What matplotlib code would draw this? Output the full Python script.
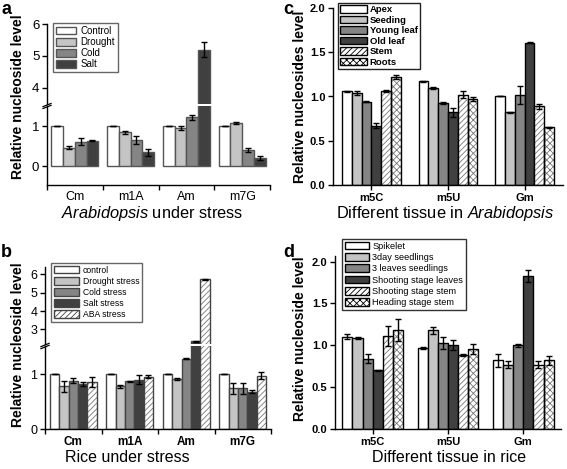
import matplotlib
matplotlib.use('Agg')
import matplotlib.pyplot as plt
import matplotlib.patches as mpatches
import numpy as np

plt.rcParams['font.family'] = ['Liberation Sans', 'DejaVu Sans']
plt.rcParams['mathtext.fontset'] = 'custom'
plt.rcParams['mathtext.rm'] = 'Liberation Sans'
plt.rcParams['mathtext.it'] = 'Liberation Sans:italic'
plt.rcParams['mathtext.bf'] = 'Liberation Sans:bold'
plt.rcParams['hatch.linewidth'] = 0.6

# ---------------- data ----------------
# Panel a: Arabidopsis under stress
a_cats = ['Cm', 'm1A', 'Am', 'm7G']
a_labels = ['Control', 'Drought', 'Cold', 'Salt']
a_control = [1.0, 1.0, 1.0, 1.0]
a_drought = [0.46, 0.84, 0.94, 1.08]
a_cold = [0.61, 0.65, 1.22, 0.40]
a_salt = [0.63, 0.34, 5.19, 0.20]
a_control_err = [0.0, 0.0, 0.0, 0.0]
a_drought_err = [0.03, 0.03, 0.05, 0.02]
a_cold_err = [0.09, 0.09, 0.06, 0.06]
a_salt_err = [0.01, 0.08, 0.23, 0.05]

# Panel b: Rice under stress
b_cats = ['Cm', 'm1A', 'Am', 'm7G']
b_labels = ['control', 'Drought stress', 'Cold stress', 'Salt stress', 'ABA stress']
b_control = [1.0, 1.0, 1.0, 1.0]
b_drought = [0.78, 0.775, 0.91, 0.74]
b_cold = [0.88, 0.87, 1.28, 0.74]
b_salt = [0.82, 0.90, 2.35, 0.68]
b_aba = [0.86, 0.95, 5.74, 0.97]
b_control_err = [0.0, 0.0, 0.0, 0.0]
b_drought_err = [0.10, 0.02, 0.01, 0.10]
b_cold_err = [0.05, 0.01, 0.01, 0.10]
b_salt_err = [0.04, 0.09, 0.02, 0.03]
b_aba_err = [0.09, 0.03, 0.03, 0.06]

# Panel c: Different tissue in Arabidopsis
c_cats = ['m5C', 'm5U', 'Gm']
c_labels = ['Apex', 'Seeding', 'Young leaf', 'Old leaf', 'Stem', 'Roots']
c_apex = [1.06, 1.17, 1.00]
c_seeding = [1.04, 1.10, 0.82]
c_young = [0.94, 0.93, 1.02]
c_old = [0.67, 0.82, 1.61]
c_stem = [1.06, 1.02, 0.89]
c_roots = [1.22, 0.97, 0.65]
c_apex_err = [0.005, 0.005, 0.0]
c_seeding_err = [0.02, 0.01, 0.01]
c_young_err = [0.005, 0.01, 0.10]
c_old_err = [0.03, 0.05, 0.01]
c_stem_err = [0.01, 0.04, 0.03]
c_roots_err = [0.02, 0.02, 0.01]

# Panel d: Different tissue in rice
d_cats = ['m5C', 'm5U', 'Gm']
d_labels = ['Spikelet', '3day seedlings', '3 leaves seedlings',
            'Shooting stage leaves', 'Shooting stage stem', 'Heading stage stem']
d_spikelet = [1.10, 0.97, 0.82]
d_3day = [1.09, 1.18, 0.77]
d_3leaves = [0.84, 1.03, 1.00]
d_shoot_leaves = [0.70, 1.00, 1.83]
d_shoot_stem = [1.11, 0.88, 0.77]
d_heading_stem = [1.18, 0.95, 0.82]
d_spikelet_err = [0.03, 0.01, 0.08]
d_3day_err = [0.01, 0.04, 0.04]
d_3leaves_err = [0.05, 0.07, 0.02]
d_shoot_leaves_err = [0.01, 0.06, 0.07]
d_shoot_stem_err = [0.12, 0.01, 0.04]
d_heading_stem_err = [0.13, 0.06, 0.05]

# ---------------- styles ----------------
WHITE, LIGHT, MID, DARK = '#ffffff', '#c4c4c4', '#858585', '#404040'
W, H = 567, 469
fig = plt.figure(figsize=(W / 100, H / 100), dpi=100)


def rect(l, r, top, bottom):
    return [l / W, 1 - bottom / H, (r - l) / W, (bottom - top) / H]


def draw_bars(ax, ncat, series, errs, styles, width, edge):
    x = np.arange(ncat)
    n = len(series)
    for i, (vals, err, st) in enumerate(zip(series, errs, styles)):
        pos = x + (i - (n - 1) / 2) * width
        fc, hatch = st
        if hatch:
            ax.bar(pos, vals, width, color=fc, edgecolor='#777777', hatch=hatch,
                   linewidth=0, zorder=2)
            ax.bar(pos, vals, width, fill=False, edgecolor=edge, linewidth=1.0, zorder=3)
        else:
            ax.bar(pos, vals, width, color=fc, edgecolor=edge, linewidth=1.0, zorder=2)
        ax.errorbar(pos, vals, yerr=err, fmt='none', ecolor='black', elinewidth=1.0,
                    capsize=2.2, capthick=1.0, zorder=4)
    return x


def legend_handles(styles, edge):
    return [mpatches.Patch(facecolor=fc, edgecolor=edge, hatch=hatch, linewidth=1.0)
            for fc, hatch in styles]


def break_marks(ax, y):
    kw = dict(transform=ax.transAxes, color='black', lw=0.9, clip_on=False, zorder=10)
    for dy in (-0.012, 0.012):
        ax.plot([-0.018, 0.018], [y + dy - 0.02, y + dy + 0.02], **kw)


def style_axis(ax):
    ax.spines['top'].set_visible(False)
    ax.spines['right'].set_visible(False)
    for s in ax.spines.values():
        s.set_linewidth(1.0)
    ax.tick_params(axis='both', direction='out', length=3.5, width=1.0, pad=2)
    ax.patch.set_alpha(0)


# ---------------- panel a ----------------
styles_a = [(WHITE, None), (LIGHT, None), (MID, None), (DARK, None)]
edge_a = '#555555'
a_series = [a_control, a_drought, a_cold, a_salt]
a_errs = [a_control_err, a_drought_err, a_cold_err, a_salt_err]
axa_lo = fig.add_axes(rect(47, 270, 106, 185))
axa_hi = fig.add_axes(rect(47, 270, 24, 104))
for ax in (axa_lo, axa_hi):
    draw_bars(ax, 4, a_series, a_errs, styles_a, 0.21, edge_a)
    style_axis(ax)
    ax.set_xlim(-0.5, 3.5)
    ax.tick_params(axis='y', labelsize=9.5)
axa_lo.set_ylim(-0.475, 1.5)
axa_hi.set_ylim(3.49, 6.0)
axa_lo.set_yticks([0, 1])
axa_hi.set_yticks([4, 5, 6])
axa_hi.spines['bottom'].set_visible(False)
axa_hi.tick_params(axis='x', which='both', bottom=False, labelbottom=False)
axa_lo.set_xticks(np.arange(4))
axa_lo.set_xticklabels(a_cats, fontsize=9)
axa_lo.tick_params(axis='x', which='major', length=0, pad=4)
axa_lo.set_xticks(np.arange(-0.5, 4, 1.0), minor=True)
axa_lo.tick_params(axis='x', which='minor', length=3.5, width=1.0, direction='out')
break_marks(axa_lo, 1.0)
axa_hi.legend(legend_handles(styles_a, edge_a), a_labels, loc='upper left',
              bbox_to_anchor=(53 / W, 1 - 23 / H), bbox_transform=fig.transFigure,
              borderaxespad=0, fontsize=7, handlelength=2.1, handleheight=0.85,
              labelspacing=0.12, borderpad=0.3, handletextpad=0.4, fancybox=False,
              framealpha=1, edgecolor='#666666')
fig.text(18 / W, 1 - 97 / H, 'Relative nucleoside level', rotation=90, fontsize=10,
         fontweight='bold', ha='center', va='center')
fig.text(152 / W, 1 - 213 / H, r'$\it{Arabidopsis}$ under stress', fontsize=11.8,
         ha='center', va='center')

# ---------------- panel b ----------------
styles_b = [(WHITE, None), (LIGHT, None), (MID, None), (DARK, None), (WHITE, '//////')]
edge_b = '#444444'
b_series = [b_control, b_drought, b_cold, b_salt, b_aba]
b_errs = [b_control_err, b_drought_err, b_cold_err, b_salt_err, b_aba_err]
axb_lo = fig.add_axes(rect(45, 271, 346, 429))
axb_hi = fig.add_axes(rect(45, 271, 267, 344))
for ax in (axb_lo, axb_hi):
    draw_bars(ax, 4, b_series, b_errs, styles_b, 0.165, edge_b)
    style_axis(ax)
    ax.set_xlim(-0.5, 3.5)
    ax.tick_params(axis='y', labelsize=9)
axb_lo.set_ylim(0, 1.51)
axb_hi.set_ylim(2.2, 6.4)
axb_lo.set_yticks([0, 1])
axb_hi.set_yticks([3, 4, 5, 6])
axb_hi.spines['bottom'].set_visible(False)
axb_hi.tick_params(axis='x', which='both', bottom=False, labelbottom=False)
axb_lo.set_xticks(np.arange(4))
axb_lo.set_xticklabels(b_cats, fontsize=8.5, fontweight='bold')
axb_lo.tick_params(axis='x', which='major', length=0, pad=5)
axb_lo.set_xticks(np.arange(-0.5, 4, 1.0), minor=True)
axb_lo.tick_params(axis='x', which='minor', length=3.5, width=1.0, direction='out')
break_marks(axb_lo, 1.0)
axb_hi.legend(legend_handles(styles_b, edge_b), b_labels, loc='upper left',
              bbox_to_anchor=(51 / W, 1 - 263 / H), bbox_transform=fig.transFigure,
              borderaxespad=0, fontsize=6.2, handlelength=3.0, handleheight=1.0,
              labelspacing=0.25, borderpad=0.3, handletextpad=0.4, fancybox=False,
              framealpha=1, edgecolor='#666666')
fig.text(18 / W, 1 - 345 / H, 'Relative nucleoside level', rotation=90, fontsize=10,
         fontweight='bold', ha='center', va='center')
fig.text(127 / W, 1 - 457 / H, 'Rice under stress', fontsize=11.5, ha='center', va='center')

# ---------------- panel c ----------------
styles_c = [(WHITE, None), (LIGHT, None), (MID, None), (DARK, None),
            (WHITE, '//////'), (WHITE, 'xxxxx')]
edge_c = 'black'
c_series = [c_apex, c_seeding, c_young, c_old, c_stem, c_roots]
c_errs = [c_apex_err, c_seeding_err, c_young_err, c_old_err, c_stem_err, c_roots_err]
axc = fig.add_axes(rect(333, 563, 8, 185))
draw_bars(axc, 3, c_series, c_errs, styles_c, 0.128, edge_c)
style_axis(axc)
axc.set_xlim(-0.5, 2.5)
axc.set_ylim(0, 2.0)
axc.set_yticks([0, 0.5, 1.0, 1.5, 2.0])
axc.set_yticklabels(['0.0', '0.5', '1.0', '1.5', '2.0'], fontsize=8, fontweight='bold')
axc.set_xticks(np.arange(3))
axc.set_xticklabels(c_cats, fontsize=8, fontweight='bold')
axc.legend(legend_handles(styles_c, edge_c), c_labels, loc='upper left',
           bbox_to_anchor=(338 / W, 1 - 3 / H), bbox_transform=fig.transFigure,
           borderaxespad=0, prop={'size': 6.8, 'weight': 'bold'}, handlelength=2.8,
           handleheight=0.85, labelspacing=0.15, borderpad=0.25, handletextpad=0.3,
           fancybox=False, framealpha=1, edgecolor='#222222')
fig.text(300 / W, 1 - 97 / H, 'Relative nucleosides level', rotation=90, fontsize=10,
         fontweight='bold', ha='center', va='center')
fig.text(445 / W, 1 - 213 / H, r'Different tissue in $\it{Arabidopsis}$', fontsize=11.8,
         ha='center', va='center')

# ---------------- panel d ----------------
styles_d = [(WHITE, None), (LIGHT, None), (MID, None), (DARK, None),
            (WHITE, '//////'), (WHITE, 'xxxxx')]
edge_d = 'black'
d_series = [d_spikelet, d_3day, d_3leaves, d_shoot_leaves, d_shoot_stem, d_heading_stem]
d_errs = [d_spikelet_err, d_3day_err, d_3leaves_err, d_shoot_leaves_err,
          d_shoot_stem_err, d_heading_stem_err]
axd = fig.add_axes(rect(335, 561, 256, 429))
draw_bars(axd, 3, d_series, d_errs, styles_d, 0.134, edge_d)
style_axis(axd)
axd.set_xlim(-0.5, 2.5)
axd.set_ylim(0, 2.066)
axd.set_yticks([0, 0.5, 1.0, 1.5, 2.0])
axd.set_yticklabels(['0.0', '0.5', '1.0', '1.5', '2.0'], fontsize=8, fontweight='bold')
axd.set_xticks(np.arange(3))
axd.set_xticklabels(d_cats, fontsize=8, fontweight='bold')
axd.legend(legend_handles(styles_d, edge_d), d_labels, loc='upper left',
           bbox_to_anchor=(342 / W, 1 - 239 / H), bbox_transform=fig.transFigure,
           borderaxespad=0, fontsize=6.6, handlelength=2.6, handleheight=0.9,
           labelspacing=0.25, borderpad=0.3, handletextpad=0.4, fancybox=False,
           framealpha=1, edgecolor='#333333')
fig.text(300 / W, 1 - 339 / H, 'Relative nucleoside level', rotation=90, fontsize=10,
         fontweight='bold', ha='center', va='center')
fig.text(449 / W, 1 - 457 / H, 'Different tissue in rice', fontsize=11.5,
         ha='center', va='center')

# panel letters
for lab, x, y in [('a', 1, 1), ('c', 283, 1), ('b', 1, 244), ('d', 283, 244)]:
    fig.text(x / W, 1 - y / H, lab, fontsize=13, fontweight='bold', ha='left', va='top')

fig.savefig('out.png', dpi=100)
